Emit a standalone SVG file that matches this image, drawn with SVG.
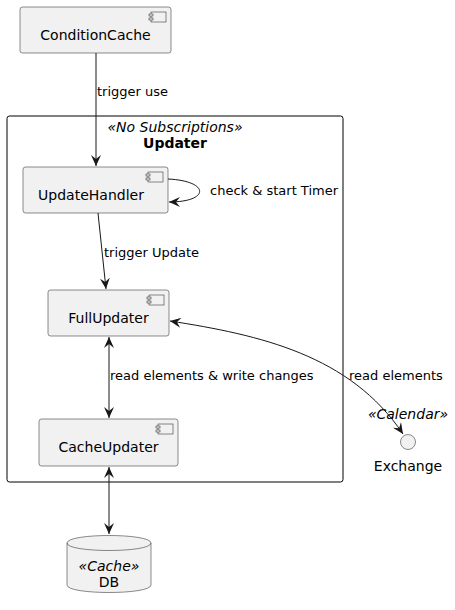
<svg xmlns="http://www.w3.org/2000/svg" width="455" height="610" viewBox="0 0 455 610">
<defs>
<style>
.box{fill:#F1F1F1;stroke:#181818;stroke-width:0.5}
.ico{fill:#F1F1F1;stroke:#181818;stroke-width:0.5}
.name{font-family:"DejaVu Sans",sans-serif;font-size:14px;fill:#000}
.lbl{font-family:"DejaVu Sans",sans-serif;font-size:13px;fill:#000}
.st{font-family:"DejaVu Sans",sans-serif;font-size:14px;font-style:italic;fill:#000}
.edge{fill:none;stroke:#181818;stroke-width:1}
</style>
<marker id="ah" viewBox="0 0 12 10" refX="11" refY="5" markerWidth="12" markerHeight="10" markerUnits="userSpaceOnUse" orient="auto-start-reverse">
<path d="M0,0 L11,5 L0,10 L4,5 Z" fill="#181818"/>
</marker>
<g id="icon">
<rect x="0" y="0" width="15" height="10" class="ico"/>
<rect x="-2" y="2" width="4" height="2" class="ico"/>
<rect x="-2" y="6" width="4" height="2" class="ico"/>
</g>
</defs>
<g id="Updater">
<rect x="7" y="116" width="336" height="366" rx="2.5" fill="none" stroke="#000" stroke-width="1"/>
<text x="175" y="132" class="st" text-anchor="middle">«No Subscriptions»</text>
<text x="175" y="148" class="name" text-anchor="middle" font-weight="bold">Updater</text>
</g>
<g id="ConditionCache">
<rect x="20" y="7" width="151" height="46" rx="2.5" class="box"/>
<use href="#icon" x="151" y="12"/>
<text x="95.5" y="40" class="name" text-anchor="middle">ConditionCache</text>
</g>
<g id="UpdateHandler">
<rect x="23" y="167" width="145" height="46" rx="2.5" class="box"/>
<use href="#icon" x="148" y="172"/>
<text x="91" y="200" class="name" text-anchor="middle">UpdateHandler</text>
</g>
<g id="FullUpdater">
<rect x="48" y="290" width="121" height="46" rx="2.5" class="box"/>
<use href="#icon" x="149" y="295"/>
<text x="108.5" y="323" class="name" text-anchor="middle">FullUpdater</text>
</g>
<g id="CacheUpdater">
<rect x="39" y="419" width="139" height="47" rx="2.5" class="box"/>
<use href="#icon" x="158" y="424"/>
<text x="108.5" y="452" class="name" text-anchor="middle">CacheUpdater</text>
</g>
<g id="Exchange">
<circle cx="408" cy="442" r="7.5" class="box"/>
<text x="408" y="419" class="st" text-anchor="middle">«Calendar»</text>
<text x="408" y="471" class="name" text-anchor="middle">Exchange</text>
</g>
<g id="DB">
<path d="M67,543 C67,533 151,533 151,543 L151,585 C151,595 67,595 67,585 Z" class="box"/>
<path d="M67,543 C67,553 151,553 151,543" fill="none" stroke="#181818" stroke-width="0.5"/>
<text x="109" y="571" class="st" text-anchor="middle">«Cache»</text>
<text x="109" y="587" class="name" text-anchor="middle">DB</text>
</g>
<g id="connectors">
<path d="M96,53 L96,166" class="edge" marker-end="url(#ah)"/>
<text x="97" y="96" class="lbl">trigger use</text>
<path d="M168,179 C210,181 210,202 169,202" class="edge" marker-end="url(#ah)"/>
<text x="210" y="195" class="lbl">check &amp; start Timer</text>
<path d="M98,213 L106,289" class="edge" marker-end="url(#ah)"/>
<text x="104" y="257" class="lbl">trigger Update</text>
<path d="M109,337 L109,418" class="edge" marker-start="url(#ah)" marker-end="url(#ah)"/>
<text x="110" y="380" class="lbl">read elements &amp; write changes</text>
<path d="M170,321 C260,335 350,355 403,434" class="edge" marker-start="url(#ah)" marker-end="url(#ah)"/>
<text x="349" y="380" class="lbl">read elements</text>
<path d="M109,467 L109,534" class="edge" marker-start="url(#ah)" marker-end="url(#ah)"/>
</g>
</svg>
